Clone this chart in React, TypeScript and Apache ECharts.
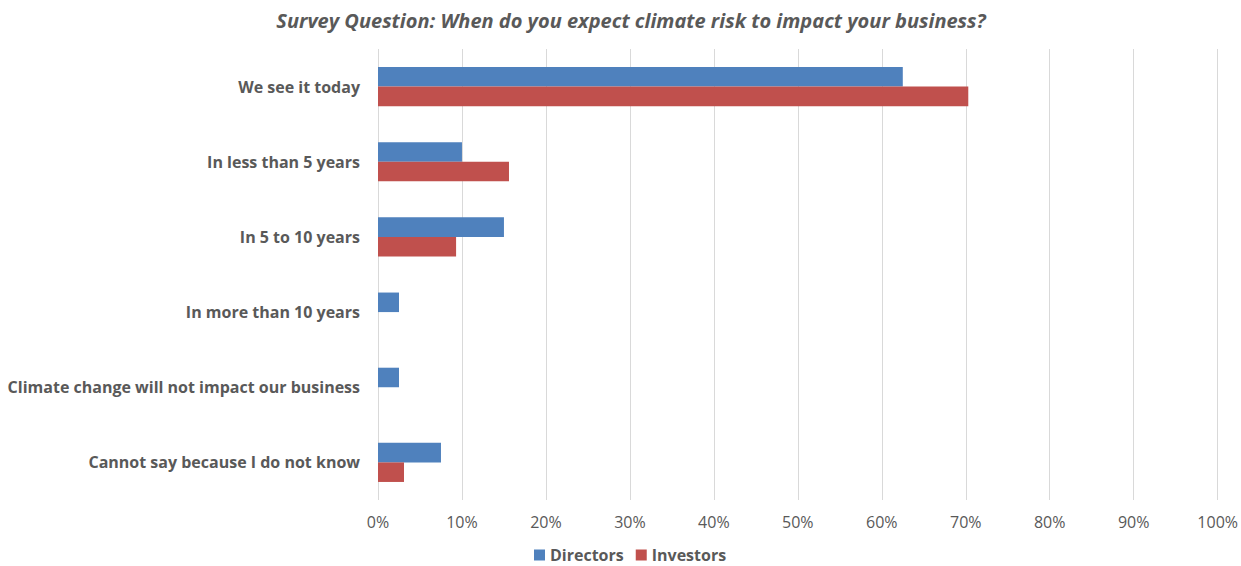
import React, { useEffect, useRef } from "react";
import * as echarts from "echarts";

const categories = [
  "We see it today",
  "In less than 5 years",
  "In 5 to 10 years",
  "In more than 10 years",
  "Climate change will not impact our business",
  "Cannot say because I do not know",
];
const directors = [62.5, 10, 15, 2.5, 2.5, 7.5];
const investors = [70.3, 15.6, 9.3, 0, 0, 3.1];
const titleText = "Survey Question: When do you expect climate risk to impact your business?";

export default function App() {
  const ref = useRef<HTMLDivElement>(null);
  useEffect(() => {
    const chart = echarts.init(ref.current!, null, { renderer: "svg" });
    const font = "'Open Sans', sans-serif";
    chart.setOption({
      animation: false,
      backgroundColor: "#ffffff",
      title: {
        text: titleText,
        left: 626,
        textAlign: "center",
        top: 5,
        textStyle: { fontFamily: font, fontStyle: "italic", fontWeight: "bold", fontSize: 20, color: "#595959" },
      },
      legend: {
        top: 547,
        left: 534,
        padding: 0,
        itemWidth: 11,
        itemHeight: 11,
        itemGap: 12,
        itemTextGap: 4,
        icon: "rect",
        textStyle: { fontFamily: font, fontWeight: "bold", fontSize: 16, color: "#595959" },
        data: ["Directors", "Investors"],
      },
      grid: { left: 378, right: 23, top: 49, bottom: 66, containLabel: false },
      xAxis: {
        type: "value",
        min: 0,
        max: 100,
        interval: 10,
        axisLine: { show: false },
        axisTick: { show: false },
        splitLine: { show: true, lineStyle: { color: "#d9d9d9", width: 1 } },
        axisLabel: { formatter: "{value}%", fontFamily: font, fontSize: 16, color: "#595959", margin: 14 },
      },
      yAxis: {
        type: "category",
        data: categories,
        inverse: true,
        axisLine: { show: false },
        axisTick: { show: false },
        axisLabel: { fontFamily: font, fontWeight: "bold", fontSize: 16, color: "#595959", margin: 18 },
      },
      series: [
        { name: "Directors", type: "bar", data: directors, itemStyle: { color: "#4F81BD" }, barGap: "0%", barCategoryGap: "48%" },
        { name: "Investors", type: "bar", data: investors, itemStyle: { color: "#C0504D" }, barGap: "0%", barCategoryGap: "48%" },
      ],
    });
    return () => chart.dispose();
  }, []);
  return <div ref={ref} style={{ position: "fixed", left: 0, top: 0, width: 1241, height: 566 }} />;
}
